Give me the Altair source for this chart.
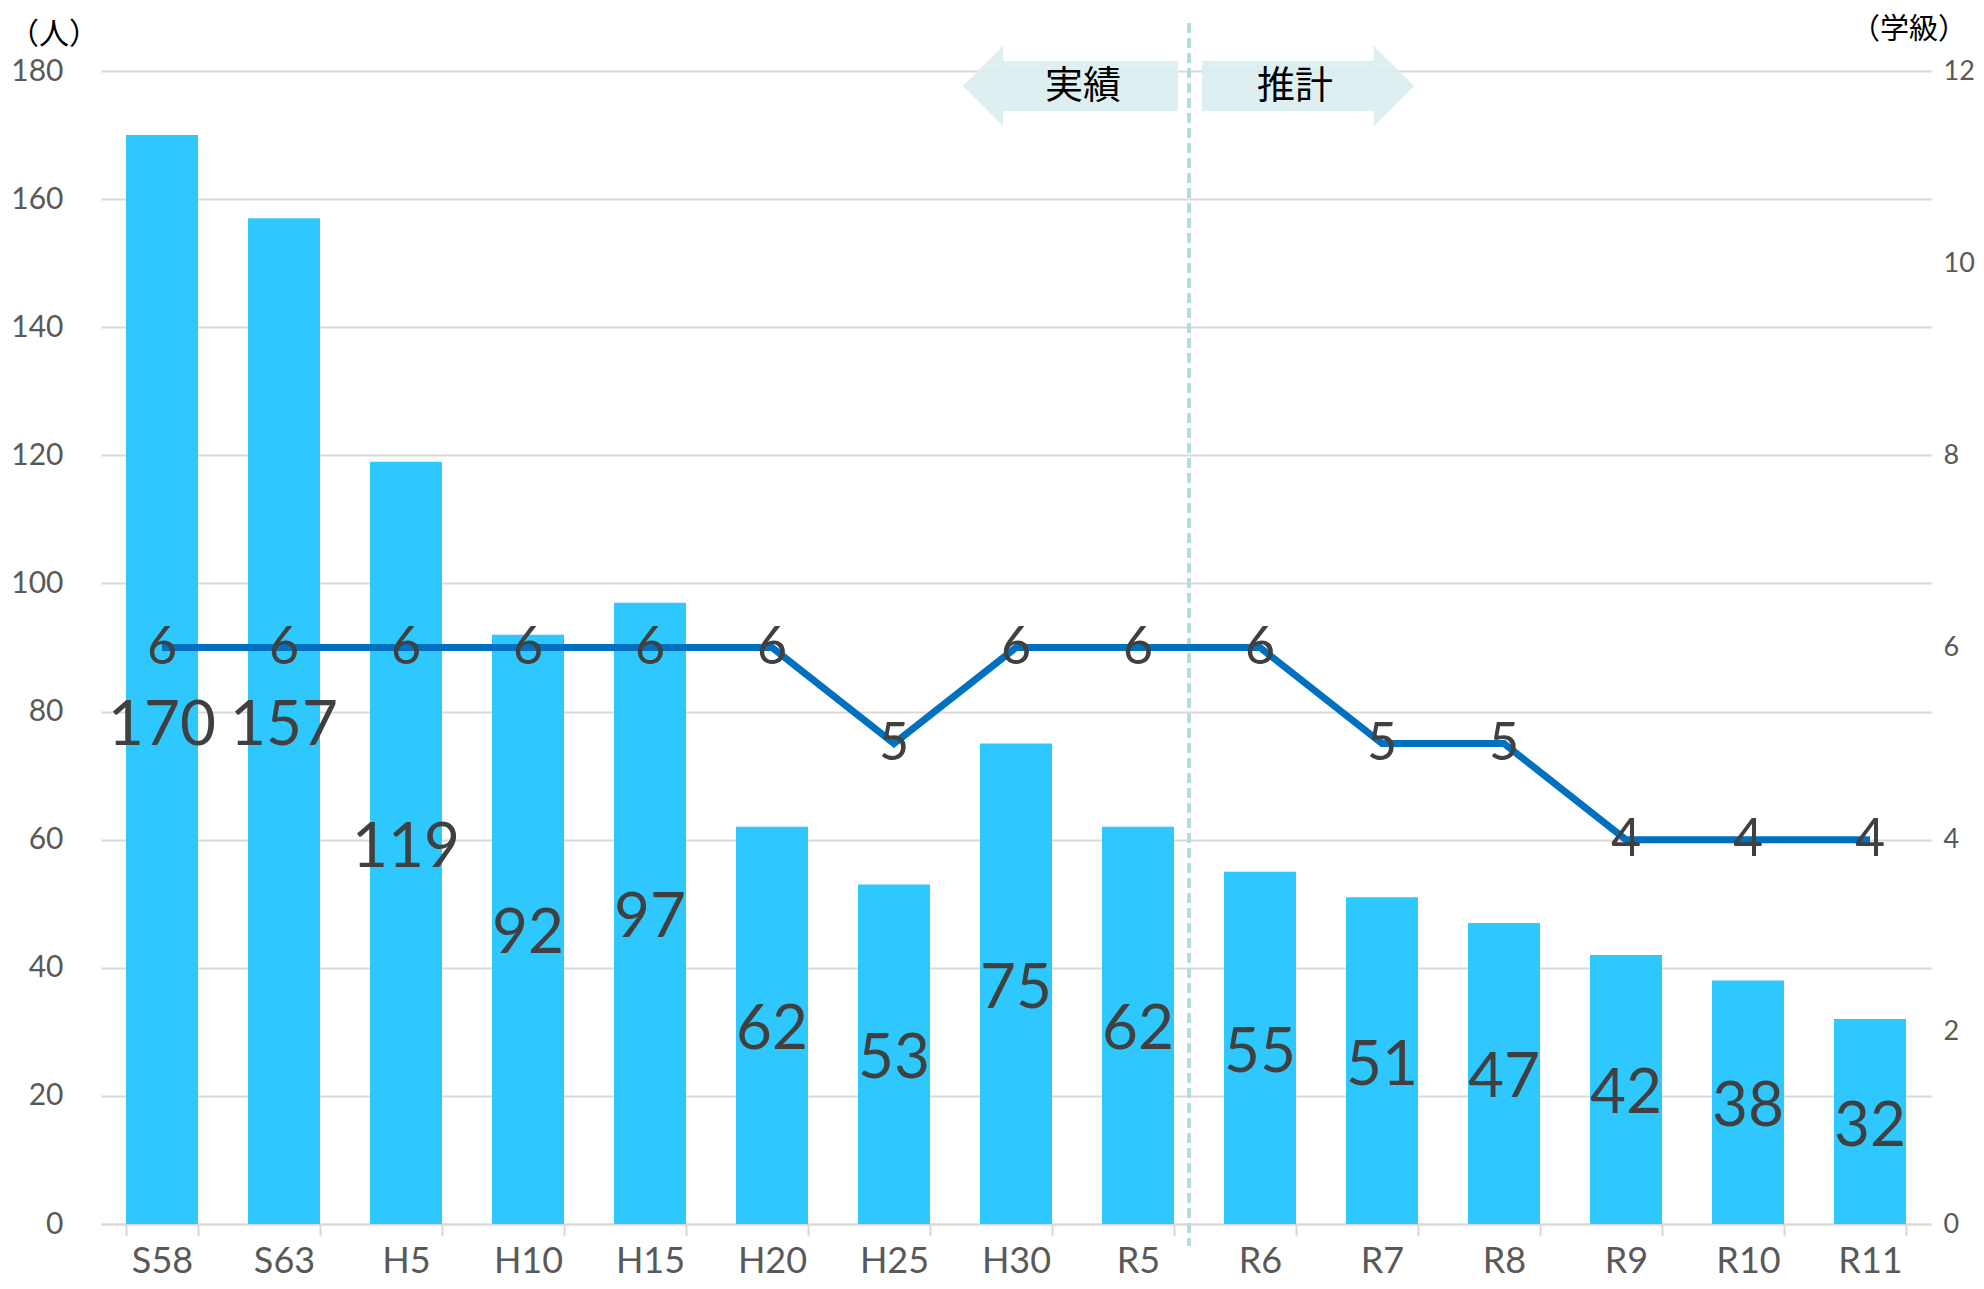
import altair as alt
import pandas as pd

categories = ["S58", "S63", "H5", "H10", "H15", "H20", "H25", "H30", "R5",
              "R6", "R7", "R8", "R9", "R10", "R11"]
students = [170, 157, 119, 92, 97, 62, 53, 75, 62, 55, 51, 47, 42, 38, 32]
classes = [6, 6, 6, 6, 6, 6, 5, 6, 6, 6, 5, 5, 4, 4, 4]

left_ticks = [0, 20, 40, 60, 80, 100, 120, 140, 160, 180]
right_ticks = [0, 2, 4, 6, 8, 10, 12]

df = pd.DataFrame({"cat": categories, "students": students, "classes": classes})
one = pd.DataFrame({"a": [0]})

FONT = "Lato"
JP = "Noto Sans CJK JP"
BAR = "#2EC8FF"
LINE = "#0070C0"
LABEL = "#404040"
AXIS = "#595959"
GRID = "#D9D9D9"
ARROW = "#DAEDEF"

xenc = alt.X(
    "cat:N", sort=categories,
    scale=alt.Scale(paddingInner=0.41, paddingOuter=0.205),
    axis=alt.Axis(title=None, labelAngle=0, labelFontSize=36, labelColor=AXIS,
                  labelFont=FONT, labelPadding=8, domainColor=GRID, domainWidth=2,
                  tickColor=GRID, tickWidth=2, tickSize=12, tickBand="extent"))

base = alt.Chart(df)

bars = base.mark_bar(color=BAR).encode(
    x=xenc,
    y=alt.Y("students:Q", scale=alt.Scale(domain=[0, 180], nice=False),
            axis=alt.Axis(title=None, orient="left", values=left_ticks, labelFontSize=30,
                          labelColor=AXIS, labelFont=FONT, labelPadding=38, grid=True,
                          gridColor=GRID, gridWidth=2, domain=False, ticks=False)))

bar_labels = base.transform_calculate(
    ly="min(datum.students, 157) / 2"
).mark_text(fontSize=62, font=FONT, color=LABEL, baseline="middle", align="center",
            dy=5).encode(
    x=alt.X("cat:N", sort=categories),
    y=alt.Y("ly:Q", scale=alt.Scale(domain=[0, 180], nice=False), axis=None),
    text="students:Q")

divider = alt.Chart(one).mark_rule(color="#B4DDE0", strokeWidth=4, strokeDash=[10, 5]).encode(
    x=alt.value(1088), y=alt.value(-48), y2=alt.value(1175))

line = base.mark_line(color=LINE, strokeWidth=7).encode(
    x=alt.X("cat:N", sort=categories),
    y=alt.Y("classes:Q", scale=alt.Scale(domain=[0, 12], nice=False),
            axis=alt.Axis(title=None, orient="right", values=right_ticks, labelFontSize=27,
                          labelColor=AXIS, labelFont=FONT, labelPadding=12, grid=False,
                          domain=False, ticks=False)))

line_labels = base.mark_text(fontSize=52, font=FONT, color=LABEL, baseline="middle",
                             align="center").encode(
    x=alt.X("cat:N", sort=categories),
    y=alt.Y("classes:Q", scale=alt.Scale(domain=[0, 12], nice=False), axis=None),
    text="classes:Q")

# 実績 / 推計 arrows
body_l = alt.Chart(one).mark_rect(color=ARROW, opacity=0.9).encode(
    x=alt.value(902), x2=alt.value(1077), y=alt.value(-10), y2=alt.value(40))
head_l = alt.Chart(one).mark_point(shape="M-0.5,0L0.5,-1L0.5,1Z", filled=True, size=6561,
                                   color=ARROW, opacity=0.9).encode(
    x=alt.value(882), y=alt.value(15))
body_r = alt.Chart(one).mark_rect(color=ARROW, opacity=0.9).encode(
    x=alt.value(1101), x2=alt.value(1274), y=alt.value(-10), y2=alt.value(40))
head_r = alt.Chart(one).mark_point(shape="M0.5,0L-0.5,-1L-0.5,1Z", filled=True, size=6561,
                                   color=ARROW, opacity=0.9).encode(
    x=alt.value(1293), y=alt.value(15))

txt_jisseki = alt.Chart(one).mark_text(text="実績", font=JP, fontSize=38, color="#000000",
                                       align="center", baseline="middle").encode(
    x=alt.value(982), y=alt.value(16))
txt_suikei = alt.Chart(one).mark_text(text="推計", font=JP, fontSize=38, color="#000000",
                                      align="center", baseline="middle").encode(
    x=alt.value(1194), y=alt.value(16))

title_left = alt.Chart(one).mark_text(text="（人）", font=JP, fontSize=30, color="#000000",
                                      align="center", baseline="middle").encode(
    x=alt.value(-47), y=alt.value(-36))
title_right = alt.Chart(one).mark_text(text="（学級）", font=JP, fontSize=29, color="#000000",
                                       align="center", baseline="middle").encode(
    x=alt.value(1808), y=alt.value(-41))

chart = alt.layer(
    bars, bar_labels, divider, line, line_labels,
    body_l, head_l, body_r, head_r, txt_jisseki, txt_suikei, title_left, title_right
).resolve_scale(y="independent").properties(
    width=1830, height=1153,
    autosize=alt.AutoSizeParams(type="none"),
    padding={"left": 93, "top": 63, "right": 45, "bottom": 57},
    background="white"
).configure_view(stroke=None)

chart.save("out.html", embed_options={"renderer": "svg", "actions": False})
